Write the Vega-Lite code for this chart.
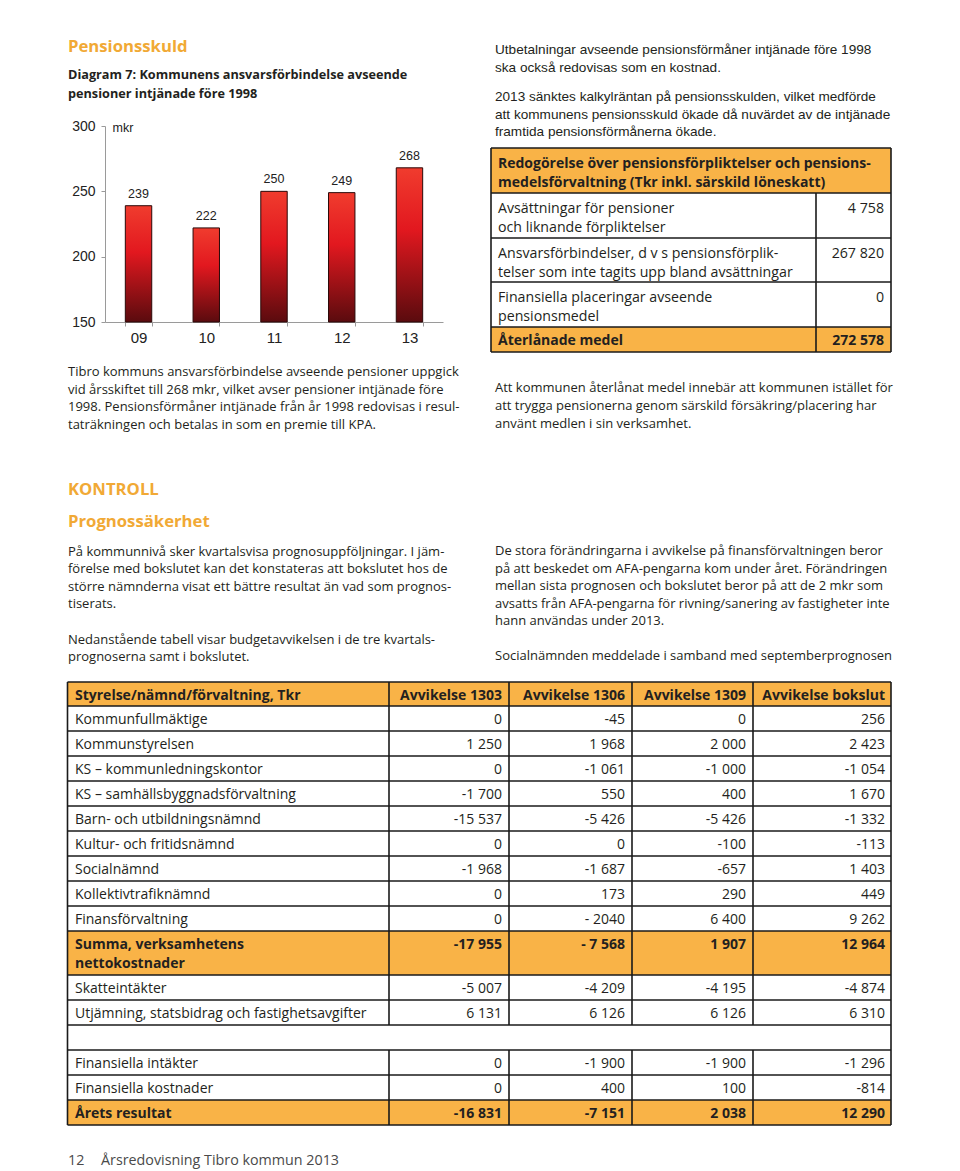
{
  "$schema": "https://vega.github.io/schema/vega-lite/v6.json",
  "width": 960,
  "height": 1171,
  "padding": 0,
  "autosize": {"type": "none"},
  "background": "#ffffff",
  "config": {"view": {"stroke": null}},
  "resolve": {"scale": {"x": "independent", "y": "independent"}},
  "datasets": {
    "pension": [
      {"r": 0, "kind": "header", "label": "Redogörelse över pensionsförpliktelser och pensions-\nmedelsförvaltning (Tkr inkl. särskild löneskatt)", "value": ""},
      {"r": 1, "kind": "item", "label": "Avsättningar för pensioner\noch liknande förpliktelser", "value": "4 758"},
      {"r": 2, "kind": "item", "label": "Ansvarsförbindelser, d v s pensionsförplik-\ntelser som inte tagits upp bland avsättningar", "value": "267 820"},
      {"r": 3, "kind": "item", "label": "Finansiella placeringar avseende\npensionsmedel", "value": "0"},
      {"r": 4, "kind": "total", "label": "Återlånade medel", "value": "272 578"}
    ],
    "budget": [
      {"r": 0, "c": 0, "kind": "header", "t": "Styrelse/nämnd/förvaltning, Tkr"},
      {"r": 0, "c": 1, "kind": "header", "t": "Avvikelse 1303"},
      {"r": 0, "c": 2, "kind": "header", "t": "Avvikelse 1306"},
      {"r": 0, "c": 3, "kind": "header", "t": "Avvikelse 1309"},
      {"r": 0, "c": 4, "kind": "header", "t": "Avvikelse bokslut"},
      {"r": 1, "c": 0, "kind": "item", "t": "Kommunfullmäktige"},
      {"r": 1, "c": 1, "kind": "item", "t": "0"},
      {"r": 1, "c": 2, "kind": "item", "t": "-45"},
      {"r": 1, "c": 3, "kind": "item", "t": "0"},
      {"r": 1, "c": 4, "kind": "item", "t": "256"},
      {"r": 2, "c": 0, "kind": "item", "t": "Kommunstyrelsen"},
      {"r": 2, "c": 1, "kind": "item", "t": "1 250"},
      {"r": 2, "c": 2, "kind": "item", "t": "1 968"},
      {"r": 2, "c": 3, "kind": "item", "t": "2 000"},
      {"r": 2, "c": 4, "kind": "item", "t": "2 423"},
      {"r": 3, "c": 0, "kind": "item", "t": "KS – kommunledningskontor"},
      {"r": 3, "c": 1, "kind": "item", "t": "0"},
      {"r": 3, "c": 2, "kind": "item", "t": "-1 061"},
      {"r": 3, "c": 3, "kind": "item", "t": "-1 000"},
      {"r": 3, "c": 4, "kind": "item", "t": "-1 054"},
      {"r": 4, "c": 0, "kind": "item", "t": "KS – samhällsbyggnadsförvaltning"},
      {"r": 4, "c": 1, "kind": "item", "t": "-1 700"},
      {"r": 4, "c": 2, "kind": "item", "t": "550"},
      {"r": 4, "c": 3, "kind": "item", "t": "400"},
      {"r": 4, "c": 4, "kind": "item", "t": "1 670"},
      {"r": 5, "c": 0, "kind": "item", "t": "Barn- och utbildningsnämnd"},
      {"r": 5, "c": 1, "kind": "item", "t": "-15 537"},
      {"r": 5, "c": 2, "kind": "item", "t": "-5 426"},
      {"r": 5, "c": 3, "kind": "item", "t": "-5 426"},
      {"r": 5, "c": 4, "kind": "item", "t": "-1 332"},
      {"r": 6, "c": 0, "kind": "item", "t": "Kultur- och fritidsnämnd"},
      {"r": 6, "c": 1, "kind": "item", "t": "0"},
      {"r": 6, "c": 2, "kind": "item", "t": "0"},
      {"r": 6, "c": 3, "kind": "item", "t": "-100"},
      {"r": 6, "c": 4, "kind": "item", "t": "-113"},
      {"r": 7, "c": 0, "kind": "item", "t": "Socialnämnd"},
      {"r": 7, "c": 1, "kind": "item", "t": "-1 968"},
      {"r": 7, "c": 2, "kind": "item", "t": "-1 687"},
      {"r": 7, "c": 3, "kind": "item", "t": "-657"},
      {"r": 7, "c": 4, "kind": "item", "t": "1 403"},
      {"r": 8, "c": 0, "kind": "item", "t": "Kollektivtrafiknämnd"},
      {"r": 8, "c": 1, "kind": "item", "t": "0"},
      {"r": 8, "c": 2, "kind": "item", "t": "173"},
      {"r": 8, "c": 3, "kind": "item", "t": "290"},
      {"r": 8, "c": 4, "kind": "item", "t": "449"},
      {"r": 9, "c": 0, "kind": "item", "t": "Finansförvaltning"},
      {"r": 9, "c": 1, "kind": "item", "t": "0"},
      {"r": 9, "c": 2, "kind": "item", "t": "- 2040"},
      {"r": 9, "c": 3, "kind": "item", "t": "6 400"},
      {"r": 9, "c": 4, "kind": "item", "t": "9 262"},
      {"r": 10, "c": 0, "kind": "sum", "t": "Summa, verksamhetens\nnettokostnader"},
      {"r": 10, "c": 1, "kind": "sum", "t": "-17 955"},
      {"r": 10, "c": 2, "kind": "sum", "t": "- 7 568"},
      {"r": 10, "c": 3, "kind": "sum", "t": "1 907"},
      {"r": 10, "c": 4, "kind": "sum", "t": "12 964"},
      {"r": 11, "c": 0, "kind": "item", "t": "Skatteintäkter"},
      {"r": 11, "c": 1, "kind": "item", "t": "-5 007"},
      {"r": 11, "c": 2, "kind": "item", "t": "-4 209"},
      {"r": 11, "c": 3, "kind": "item", "t": "-4 195"},
      {"r": 11, "c": 4, "kind": "item", "t": "-4 874"},
      {"r": 12, "c": 0, "kind": "item", "t": "Utjämning, statsbidrag och fastighetsavgifter"},
      {"r": 12, "c": 1, "kind": "item", "t": "6 131"},
      {"r": 12, "c": 2, "kind": "item", "t": "6 126"},
      {"r": 12, "c": 3, "kind": "item", "t": "6 126"},
      {"r": 12, "c": 4, "kind": "item", "t": "6 310"},
      {"r": 14, "c": 0, "kind": "item", "t": "Finansiella intäkter"},
      {"r": 14, "c": 1, "kind": "item", "t": "0"},
      {"r": 14, "c": 2, "kind": "item", "t": "-1 900"},
      {"r": 14, "c": 3, "kind": "item", "t": "-1 900"},
      {"r": 14, "c": 4, "kind": "item", "t": "-1 296"},
      {"r": 15, "c": 0, "kind": "item", "t": "Finansiella kostnader"},
      {"r": 15, "c": 1, "kind": "item", "t": "0"},
      {"r": 15, "c": 2, "kind": "item", "t": "400"},
      {"r": 15, "c": 3, "kind": "item", "t": "100"},
      {"r": 15, "c": 4, "kind": "item", "t": "-814"},
      {"r": 16, "c": 0, "kind": "sum", "t": "Årets resultat"},
      {"r": 16, "c": 1, "kind": "sum", "t": "-16 831"},
      {"r": 16, "c": 2, "kind": "sum", "t": "-7 151"},
      {"r": 16, "c": 3, "kind": "sum", "t": "2 038"},
      {"r": 16, "c": 4, "kind": "sum", "t": "12 290"}
    ]
  },
  "layer": [
    {
      "data": {"values": [{"l": 0, "t": "Pensionsskuld"}]},
      "mark": {"type": "text", "align": "left", "baseline": "middle", "font": "Open Sans", "fontSize": 16.7, "fontWeight": "bold", "color": "#f1a935"},
      "encoding": {
        "x": {"value": 68},
        "y": {"field": "l", "type": "quantitative", "scale": {"domain": [0, 1], "range": [47, 67]}, "axis": null},
        "text": {"field": "t", "type": "nominal"}
      }
    },
    {
      "data": {"values": [{"l": 0, "t": "Diagram 7: Kommunens ansvarsförbindelse avseende"}, {"l": 1, "t": "pensioner intjänade före 1998"}]},
      "mark": {"type": "text", "align": "left", "baseline": "middle", "font": "Open Sans", "fontSize": 12.7, "fontWeight": "bold", "color": "#231f20"},
      "encoding": {
        "x": {"value": 68},
        "y": {"field": "l", "type": "quantitative", "scale": {"domain": [0, 1], "range": [75, 94]}, "axis": null},
        "text": {"field": "t", "type": "nominal"}
      }
    },
    {
      "data": {"values": [
        {"year": "09", "mkr": 239},
        {"year": "10", "mkr": 222},
        {"year": "11", "mkr": 250},
        {"year": "12", "mkr": 249},
        {"year": "13", "mkr": 268}
      ]},
      "encoding": {
        "x": {
          "field": "year", "type": "ordinal",
          "scale": {"range": [105, 443], "paddingInner": 0.61, "paddingOuter": 0.3},
          "axis": {"orient": "bottom", "offset": -849, "title": null, "labelAngle": 0, "domainColor": "#9a9a9a", "tickColor": "#9a9a9a", "tickSize": 4, "tickBand": "extent", "labelFont": "Liberation Sans", "labelFontSize": 15, "labelColor": "#222222", "labelPadding": 4}
        },
        "y": {
          "field": "mkr", "type": "quantitative",
          "scale": {"domain": [150, 300], "range": [322, 126]},
          "axis": {"orient": "left", "offset": -105, "values": [150, 200, 250, 300], "grid": false, "domainColor": "#9a9a9a", "tickColor": "#9a9a9a", "tickSize": 4, "labelFont": "Liberation Sans", "labelFontSize": 14, "labelColor": "#222222", "labelPadding": 6, "title": "mkr", "titleAngle": 0, "titleAlign": "left", "titleBaseline": "middle", "titleX": 7, "titleY": 127, "titleFont": "Liberation Sans", "titleFontSize": 12.5, "titleFontWeight": "normal", "titleColor": "#222222"}
        }
      },
      "layer": [
        {
          "mark": {
            "type": "bar",
            "stroke": "#2a0808",
            "strokeWidth": 1,
            "color": {"gradient": "linear", "x1": 0, "y1": 0, "x2": 0, "y2": 1, "stops": [
              {"offset": 0, "color": "#f03c2e"},
              {"offset": 0.4, "color": "#e2181f"},
              {"offset": 1, "color": "#5a0b0e"}
            ]}
          },
          "encoding": {"y2": {"datum": 150}}
        },
        {
          "mark": {"type": "text", "dy": -12, "baseline": "middle", "font": "Liberation Sans", "fontSize": 12.5, "color": "#222222"},
          "encoding": {"text": {"field": "mkr", "type": "quantitative"}}
        }
      ]
    },
    {
      "data": {"values": [
        {"l": 0, "t": "Tibro kommuns ansvarsförbindelse avseende pensioner uppgick"},
        {"l": 1, "t": "vid årsskiftet till 268 mkr, vilket avser pensioner intjänade före"},
        {"l": 2, "t": "1998. Pensionsförmåner intjänade från år 1998 redovisas i resul-"},
        {"l": 3, "t": "taträkningen och betalas in som en premie till KPA."}
      ]},
      "mark": {"type": "text", "align": "left", "baseline": "middle", "font": "Open Sans", "fontSize": 13, "color": "#231f20"},
      "encoding": {
        "x": {"value": 68},
        "y": {"field": "l", "type": "quantitative", "scale": {"domain": [0, 1], "range": [372, 389.7]}, "axis": null},
        "text": {"field": "t", "type": "nominal"}
      }
    },
    {
      "data": {"values": [{"l": 0, "t": "KONTROLL"}]},
      "mark": {"type": "text", "align": "left", "baseline": "middle", "font": "Open Sans", "fontSize": 16.7, "fontWeight": "bold", "color": "#f1a935"},
      "encoding": {
        "x": {"value": 68},
        "y": {"field": "l", "type": "quantitative", "scale": {"domain": [0, 1], "range": [490, 510]}, "axis": null},
        "text": {"field": "t", "type": "nominal"}
      }
    },
    {
      "data": {"values": [{"l": 0, "t": "Prognossäkerhet"}]},
      "mark": {"type": "text", "align": "left", "baseline": "middle", "font": "Open Sans", "fontSize": 16.7, "fontWeight": "bold", "color": "#f1a935"},
      "encoding": {
        "x": {"value": 68},
        "y": {"field": "l", "type": "quantitative", "scale": {"domain": [0, 1], "range": [522, 542]}, "axis": null},
        "text": {"field": "t", "type": "nominal"}
      }
    },
    {
      "data": {"values": [
        {"l": 0, "t": "På kommunnivå sker kvartalsvisa prognosuppföljningar. I jäm-"},
        {"l": 1, "t": "förelse med bokslutet kan det konstateras att bokslutet hos de"},
        {"l": 2, "t": "större nämnderna visat ett bättre resultat än vad som prognos-"},
        {"l": 3, "t": "tiserats."}
      ]},
      "mark": {"type": "text", "align": "left", "baseline": "middle", "font": "Open Sans", "fontSize": 13, "color": "#231f20"},
      "encoding": {
        "x": {"value": 68},
        "y": {"field": "l", "type": "quantitative", "scale": {"domain": [0, 1], "range": [552, 569.3]}, "axis": null},
        "text": {"field": "t", "type": "nominal"}
      }
    },
    {
      "data": {"values": [
        {"l": 0, "t": "Nedanstående tabell visar budgetavvikelsen i de tre kvartals-"},
        {"l": 1, "t": "prognoserna samt i bokslutet."}
      ]},
      "mark": {"type": "text", "align": "left", "baseline": "middle", "font": "Open Sans", "fontSize": 13, "color": "#231f20"},
      "encoding": {
        "x": {"value": 68},
        "y": {"field": "l", "type": "quantitative", "scale": {"domain": [0, 1], "range": [640, 657.3]}, "axis": null},
        "text": {"field": "t", "type": "nominal"}
      }
    },
    {
      "data": {"values": [
        {"l": 0, "t": "Utbetalningar avseende pensionsförmåner intjänade före 1998"},
        {"l": 1, "t": "ska också redovisas som en kostnad."}
      ]},
      "mark": {"type": "text", "align": "left", "baseline": "middle", "font": "Liberation Sans", "fontSize": 13.6, "color": "#231f20"},
      "encoding": {
        "x": {"value": 495},
        "y": {"field": "l", "type": "quantitative", "scale": {"domain": [0, 1], "range": [50, 68]}, "axis": null},
        "text": {"field": "t", "type": "nominal"}
      }
    },
    {
      "data": {"values": [
        {"l": 0, "t": "2013 sänktes kalkylräntan på pensionsskulden, vilket medförde"},
        {"l": 1, "t": "att kommunens pensionsskuld ökade då nuvärdet av de intjänade"},
        {"l": 2, "t": "framtida pensionsförmånerna ökade."}
      ]},
      "mark": {"type": "text", "align": "left", "baseline": "middle", "font": "Liberation Sans", "fontSize": 13.6, "color": "#231f20"},
      "encoding": {
        "x": {"value": 495},
        "y": {"field": "l", "type": "quantitative", "scale": {"domain": [0, 1], "range": [97, 114.7]}, "axis": null},
        "text": {"field": "t", "type": "nominal"}
      }
    },
    {
      "data": {"values": [
        {"l": 0, "t": "Att kommunen återlånat medel innebär att kommunen istället för"},
        {"l": 1, "t": "att trygga pensionerna genom särskild försäkring/placering har"},
        {"l": 2, "t": "använt medlen i sin verksamhet."}
      ]},
      "mark": {"type": "text", "align": "left", "baseline": "middle", "font": "Open Sans", "fontSize": 13, "color": "#231f20"},
      "encoding": {
        "x": {"value": 495},
        "y": {"field": "l", "type": "quantitative", "scale": {"domain": [0, 1], "range": [388, 405.8]}, "axis": null},
        "text": {"field": "t", "type": "nominal"}
      }
    },
    {
      "data": {"values": [
        {"l": 0, "t": "De stora förändringarna i avvikelse på finansförvaltningen beror"},
        {"l": 1, "t": "på att beskedet om AFA-pengarna kom under året. Förändringen"},
        {"l": 2, "t": "mellan sista prognosen och bokslutet beror på att de 2 mkr som"},
        {"l": 3, "t": "avsatts från AFA-pengarna för rivning/sanering av fastigheter inte"},
        {"l": 4, "t": "hann användas under 2013."}
      ]},
      "mark": {"type": "text", "align": "left", "baseline": "middle", "font": "Open Sans", "fontSize": 13, "color": "#231f20"},
      "encoding": {
        "x": {"value": 495},
        "y": {"field": "l", "type": "quantitative", "scale": {"domain": [0, 1], "range": [551, 568.6]}, "axis": null},
        "text": {"field": "t", "type": "nominal"}
      }
    },
    {
      "data": {"values": [{"l": 0, "t": "Socialnämnden meddelade i samband med septemberprognosen"}]},
      "mark": {"type": "text", "align": "left", "baseline": "middle", "font": "Open Sans", "fontSize": 13, "color": "#231f20"},
      "encoding": {
        "x": {"value": 495},
        "y": {"field": "l", "type": "quantitative", "scale": {"domain": [0, 1], "range": [656, 674]}, "axis": null},
        "text": {"field": "t", "type": "nominal"}
      }
    },
    {
      "data": {"values": [{"l": 0, "t": "12"}]},
      "mark": {"type": "text", "align": "left", "baseline": "middle", "font": "Open Sans", "fontSize": 14.3, "color": "#4a4a4a"},
      "encoding": {
        "x": {"value": 68},
        "y": {"field": "l", "type": "quantitative", "scale": {"domain": [0, 1], "range": [1161, 1181]}, "axis": null},
        "text": {"field": "t", "type": "nominal"}
      }
    },
    {
      "data": {"values": [{"l": 0, "t": "Årsredovisning Tibro kommun 2013"}]},
      "mark": {"type": "text", "align": "left", "baseline": "middle", "font": "Open Sans", "fontSize": 14.3, "color": "#4a4a4a"},
      "encoding": {
        "x": {"value": 101},
        "y": {"field": "l", "type": "quantitative", "scale": {"domain": [0, 1], "range": [1161, 1181]}, "axis": null},
        "text": {"field": "t", "type": "nominal"}
      }
    },
    {
      "data": {"values": [{"part": "rubrik", "r": 0, "r2": 1}, {"part": "summa", "r": 4, "r2": 5}]},
      "mark": {"type": "rect", "color": "#f9b347"},
      "encoding": {
        "x": {"datum": 0, "type": "quantitative", "scale": {"domain": [0, 1, 2], "range": [491, 816, 891]}, "axis": null},
        "x2": {"datum": 2},
        "y": {"field": "r", "type": "quantitative", "scale": {"domain": [0, 1, 2, 3, 4, 5], "range": [148, 193, 238, 282, 327, 352]}, "axis": null},
        "y2": {"field": "r2"}
      }
    },
    {
      "data": {"values": [{"r": 0}, {"r": 1}, {"r": 2}, {"r": 3}, {"r": 4}, {"r": 5}]},
      "mark": {"type": "rule", "color": "#1a1a1a", "strokeWidth": 1.6},
      "encoding": {
        "x": {"datum": 0, "type": "quantitative", "scale": {"domain": [0, 1, 2], "range": [491, 816, 891]}, "axis": null},
        "x2": {"datum": 2},
        "y": {"field": "r", "type": "quantitative", "scale": {"domain": [0, 1, 2, 3, 4, 5], "range": [148, 193, 238, 282, 327, 352]}, "axis": null}
      }
    },
    {
      "data": {"values": [{"c": 0, "r": 0, "r2": 5}, {"c": 1, "r": 1, "r2": 5}, {"c": 2, "r": 0, "r2": 5}]},
      "mark": {"type": "rule", "color": "#1a1a1a", "strokeWidth": 1.6},
      "encoding": {
        "x": {"field": "c", "type": "quantitative", "scale": {"domain": [0, 1, 2], "range": [491, 816, 891]}, "axis": null},
        "y": {"field": "r", "type": "quantitative", "scale": {"domain": [0, 1, 2, 3, 4, 5], "range": [148, 193, 238, 282, 327, 352]}, "axis": null},
        "y2": {"field": "r2"}
      }
    },
    {
      "data": {"name": "pension"},
      "transform": [{"filter": {"field": "kind", "equal": "header"}}],
      "mark": {"type": "text", "align": "left", "baseline": "alphabetic", "dy": 19.5, "lineBreak": "\n", "lineHeight": 19.5, "font": "Open Sans", "fontSize": 14, "fontWeight": "bold", "color": "#231f20"},
      "encoding": {
        "x": {"value": 498},
        "y": {"field": "r", "type": "quantitative", "scale": {"domain": [0, 1, 2, 3, 4, 5], "range": [148, 193, 238, 282, 327, 352]}, "axis": null},
        "text": {"field": "label", "type": "nominal"}
      }
    },
    {
      "data": {"name": "pension"},
      "transform": [{"filter": {"field": "kind", "equal": "item"}}],
      "mark": {"type": "text", "align": "left", "baseline": "alphabetic", "dy": 19.5, "lineBreak": "\n", "lineHeight": 19, "font": "Open Sans", "fontSize": 14.2, "color": "#231f20"},
      "encoding": {
        "x": {"value": 498},
        "y": {"field": "r", "type": "quantitative", "scale": {"domain": [0, 1, 2, 3, 4, 5], "range": [148, 193, 238, 282, 327, 352]}, "axis": null},
        "text": {"field": "label", "type": "nominal"}
      }
    },
    {
      "data": {"name": "pension"},
      "transform": [{"filter": {"field": "kind", "equal": "item"}}],
      "mark": {"type": "text", "align": "right", "baseline": "alphabetic", "dy": 19.5, "font": "Open Sans", "fontSize": 14.2, "color": "#231f20"},
      "encoding": {
        "x": {"value": 884},
        "y": {"field": "r", "type": "quantitative", "scale": {"domain": [0, 1, 2, 3, 4, 5], "range": [148, 193, 238, 282, 327, 352]}, "axis": null},
        "text": {"field": "value", "type": "nominal"}
      }
    },
    {
      "data": {"name": "pension"},
      "transform": [{"filter": {"field": "kind", "equal": "total"}}],
      "mark": {"type": "text", "align": "left", "baseline": "alphabetic", "dy": 17.5, "font": "Open Sans", "fontSize": 14, "fontWeight": "bold", "color": "#231f20"},
      "encoding": {
        "x": {"value": 498},
        "y": {"field": "r", "type": "quantitative", "scale": {"domain": [0, 1, 2, 3, 4, 5], "range": [148, 193, 238, 282, 327, 352]}, "axis": null},
        "text": {"field": "label", "type": "nominal"}
      }
    },
    {
      "data": {"name": "pension"},
      "transform": [{"filter": {"field": "kind", "equal": "total"}}],
      "mark": {"type": "text", "align": "right", "baseline": "alphabetic", "dy": 17.5, "font": "Open Sans", "fontSize": 14, "fontWeight": "bold", "color": "#231f20"},
      "encoding": {
        "x": {"value": 884},
        "y": {"field": "r", "type": "quantitative", "scale": {"domain": [0, 1, 2, 3, 4, 5], "range": [148, 193, 238, 282, 327, 352]}, "axis": null},
        "text": {"field": "value", "type": "nominal"}
      }
    },
    {
      "data": {"values": [{"part": "rubrik", "r": 0, "r2": 1}, {"part": "summa", "r": 10, "r2": 11}, {"part": "resultat", "r": 16, "r2": 17}]},
      "mark": {"type": "rect", "color": "#f9b347"},
      "encoding": {
        "x": {"datum": 0, "type": "quantitative", "scale": {"domain": [0, 1, 2, 3, 4, 5], "range": [67.5, 389, 509, 632, 753, 891]}, "axis": null},
        "x2": {"datum": 5},
        "y": {"field": "r", "type": "quantitative", "scale": {"domain": [0, 1, 2, 3, 4, 5, 6, 7, 8, 9, 10, 11, 12, 13, 14, 15, 16, 17], "range": [682, 706, 731, 756, 781, 806, 831, 856, 881, 906, 931, 975, 1000, 1025, 1050, 1075, 1100, 1125]}, "axis": null},
        "y2": {"field": "r2"}
      }
    },
    {
      "data": {"values": [{"r": 0}, {"r": 1}, {"r": 2}, {"r": 3}, {"r": 4}, {"r": 5}, {"r": 6}, {"r": 7}, {"r": 8}, {"r": 9}, {"r": 10}, {"r": 11}, {"r": 12}, {"r": 13}, {"r": 14}, {"r": 15}, {"r": 16}, {"r": 17}]},
      "mark": {"type": "rule", "color": "#1a1a1a", "strokeWidth": 1.6},
      "encoding": {
        "x": {"datum": 0, "type": "quantitative", "scale": {"domain": [0, 1, 2, 3, 4, 5], "range": [67.5, 389, 509, 632, 753, 891]}, "axis": null},
        "x2": {"datum": 5},
        "y": {"field": "r", "type": "quantitative", "scale": {"domain": [0, 1, 2, 3, 4, 5, 6, 7, 8, 9, 10, 11, 12, 13, 14, 15, 16, 17], "range": [682, 706, 731, 756, 781, 806, 831, 856, 881, 906, 931, 975, 1000, 1025, 1050, 1075, 1100, 1125]}, "axis": null}
      }
    },
    {
      "data": {"values": [
        {"c": 0, "r": 0, "r2": 17},
        {"c": 1, "r": 0, "r2": 13}, {"c": 1, "r": 14, "r2": 17},
        {"c": 2, "r": 0, "r2": 13}, {"c": 2, "r": 14, "r2": 17},
        {"c": 3, "r": 0, "r2": 13}, {"c": 3, "r": 14, "r2": 17},
        {"c": 4, "r": 0, "r2": 13}, {"c": 4, "r": 14, "r2": 17},
        {"c": 5, "r": 0, "r2": 17}
      ]},
      "mark": {"type": "rule", "color": "#1a1a1a", "strokeWidth": 1.6},
      "encoding": {
        "x": {"field": "c", "type": "quantitative", "scale": {"domain": [0, 1, 2, 3, 4, 5], "range": [67.5, 389, 509, 632, 753, 891]}, "axis": null},
        "y": {"field": "r", "type": "quantitative", "scale": {"domain": [0, 1, 2, 3, 4, 5, 6, 7, 8, 9, 10, 11, 12, 13, 14, 15, 16, 17], "range": [682, 706, 731, 756, 781, 806, 831, 856, 881, 906, 931, 975, 1000, 1025, 1050, 1075, 1100, 1125]}, "axis": null},
        "y2": {"field": "r2"}
      }
    },
    {
      "data": {"name": "budget"},
      "transform": [{"filter": {"and": [{"field": "c", "equal": 0}, {"field": "kind", "equal": "item"}]}}],
      "mark": {"type": "text", "align": "left", "baseline": "alphabetic", "dy": 17.5, "font": "Open Sans", "fontSize": 14, "color": "#231f20"},
      "encoding": {
        "x": {"value": 75},
        "y": {"field": "r", "type": "quantitative", "scale": {"domain": [0, 1, 2, 3, 4, 5, 6, 7, 8, 9, 10, 11, 12, 13, 14, 15, 16, 17], "range": [682, 706, 731, 756, 781, 806, 831, 856, 881, 906, 931, 975, 1000, 1025, 1050, 1075, 1100, 1125]}, "axis": null},
        "text": {"field": "t", "type": "nominal"}
      }
    },
    {
      "data": {"name": "budget"},
      "transform": [{"filter": {"and": [{"field": "c", "equal": 0}, {"field": "kind", "oneOf": ["header", "sum"]}]}}],
      "mark": {"type": "text", "align": "left", "baseline": "alphabetic", "dy": 17.5, "lineBreak": "\n", "lineHeight": 19, "font": "Open Sans", "fontSize": 14, "fontWeight": "bold", "color": "#231f20"},
      "encoding": {
        "x": {"value": 75},
        "y": {"field": "r", "type": "quantitative", "scale": {"domain": [0, 1, 2, 3, 4, 5, 6, 7, 8, 9, 10, 11, 12, 13, 14, 15, 16, 17], "range": [682, 706, 731, 756, 781, 806, 831, 856, 881, 906, 931, 975, 1000, 1025, 1050, 1075, 1100, 1125]}, "axis": null},
        "text": {"field": "t", "type": "nominal"}
      }
    },
    {
      "data": {"name": "budget"},
      "transform": [{"filter": {"and": [{"field": "c", "gt": 0}, {"field": "kind", "equal": "item"}]}}],
      "mark": {"type": "text", "align": "right", "baseline": "alphabetic", "dy": 17.5, "font": "Open Sans", "fontSize": 14, "color": "#231f20"},
      "encoding": {
        "x": {"field": "c", "type": "quantitative", "scale": {"domain": [1, 2, 3, 4], "range": [502, 625, 746, 885]}, "axis": null},
        "y": {"field": "r", "type": "quantitative", "scale": {"domain": [0, 1, 2, 3, 4, 5, 6, 7, 8, 9, 10, 11, 12, 13, 14, 15, 16, 17], "range": [682, 706, 731, 756, 781, 806, 831, 856, 881, 906, 931, 975, 1000, 1025, 1050, 1075, 1100, 1125]}, "axis": null},
        "text": {"field": "t", "type": "nominal"}
      }
    },
    {
      "data": {"name": "budget"},
      "transform": [{"filter": {"and": [{"field": "c", "gt": 0}, {"field": "kind", "oneOf": ["header", "sum"]}]}}],
      "mark": {"type": "text", "align": "right", "baseline": "alphabetic", "dy": 17.5, "font": "Open Sans", "fontSize": 14, "fontWeight": "bold", "color": "#231f20"},
      "encoding": {
        "x": {"field": "c", "type": "quantitative", "scale": {"domain": [1, 2, 3, 4], "range": [502, 625, 746, 885]}, "axis": null},
        "y": {"field": "r", "type": "quantitative", "scale": {"domain": [0, 1, 2, 3, 4, 5, 6, 7, 8, 9, 10, 11, 12, 13, 14, 15, 16, 17], "range": [682, 706, 731, 756, 781, 806, 831, 856, 881, 906, 931, 975, 1000, 1025, 1050, 1075, 1100, 1125]}, "axis": null},
        "text": {"field": "t", "type": "nominal"}
      }
    }
  ]
}
